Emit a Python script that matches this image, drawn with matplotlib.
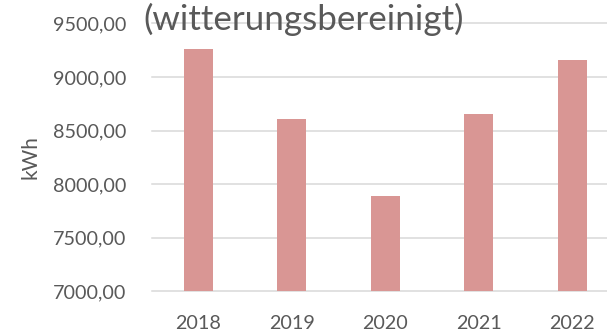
import matplotlib
matplotlib.use("Agg")
import matplotlib.pyplot as plt

# yearly consumption, weather-adjusted
years = ["2018", "2019", "2020", "2021", "2022"]
kwh = [9260, 8610, 7890, 8650, 9163]
yticks = [7000, 7500, 8000, 8500, 9000, 9500]

plt.rcParams['font.family'] = ['Lato', 'DejaVu Sans']
text_color = '#595959'
bar_color = '#D99694'
grid_color = '#D9D9D9'

fig = plt.figure(figsize=(6.07, 3.35), dpi=100)
ax = fig.add_axes([0.25, 0.131, 0.77, 0.799])

x = range(len(years))
ax.bar(x, kwh, width=0.31, color=bar_color, zorder=2)

ax.set_xlim(-0.5, len(years) - 0.5)
ax.set_ylim(yticks[0], yticks[-1])

#horizontal gridlines, drawn by hand so the edge ones aren't clipped
for v in yticks:
    ax.axhline(v, color=grid_color, lw=1.1, zorder=1, clip_on=False)

ax.set_xticks(list(x))
ax.set_xticklabels(years)
ax.set_yticks(yticks)
ax.set_yticklabels([f"{v:.2f}".replace('.', ',') for v in yticks])
ax.tick_params(axis='both', length=0, labelsize=14.2, colors=text_color)
ax.tick_params(axis='y', pad=18)
ax.tick_params(axis='x', pad=17.5)

for s in ax.spines.values():
    s.set_visible(False)

ax.set_ylabel("kWh", fontsize=15, color=text_color, labelpad=9)

fig.text(0.501, 0.91, "(witterungsbereinigt)", ha='center', va='baseline',
         fontsize=25.2, color=text_color)

plt.savefig("out.png", dpi=100)
